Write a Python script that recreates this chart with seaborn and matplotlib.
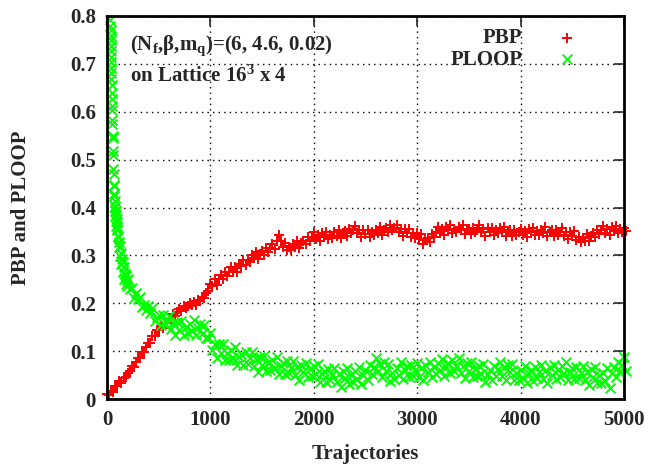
import numpy as np
import pandas as pd
import seaborn as sns
import matplotlib.pyplot as plt

# PBP, one reading every 20 trajectories from 0 to 5020
pbp_traj = np.arange(0, 5040, 20)
pbp = [
    # 0 - 980
    0.010, 0.008, 0.017, 0.014, 0.027, 0.027, 0.037, 0.034, 0.043, 0.045,
    0.055, 0.058, 0.069, 0.067, 0.077, 0.085, 0.085, 0.099, 0.099, 0.108,
    0.117, 0.118, 0.132, 0.132, 0.144, 0.144, 0.153, 0.149, 0.158, 0.158,
    0.168, 0.168, 0.178, 0.173, 0.181, 0.187, 0.183, 0.194, 0.190, 0.195,
    0.201, 0.196, 0.202, 0.197, 0.207, 0.205, 0.214, 0.210, 0.221, 0.225,
    # 1000 - 1980
    0.240, 0.236, 0.251, 0.239, 0.251, 0.259, 0.251, 0.265, 0.257, 0.266,
    0.275, 0.265, 0.275, 0.266, 0.283, 0.278, 0.290, 0.279, 0.290, 0.287,
    0.300, 0.294, 0.307, 0.293, 0.303, 0.309, 0.301, 0.315, 0.307, 0.315,
    0.324, 0.313, 0.329, 0.343, 0.330, 0.318, 0.326, 0.311, 0.318, 0.312,
    0.323, 0.317, 0.330, 0.316, 0.326, 0.331, 0.323, 0.338, 0.331, 0.339,
    # 2000 - 2980
    0.348, 0.334, 0.342, 0.330, 0.346, 0.338, 0.349, 0.334, 0.343, 0.337,
    0.348, 0.341, 0.354, 0.336, 0.346, 0.351, 0.341, 0.356, 0.346, 0.353,
    0.362, 0.347, 0.354, 0.339, 0.354, 0.345, 0.354, 0.339, 0.349, 0.342,
    0.354, 0.347, 0.360, 0.343, 0.353, 0.358, 0.349, 0.364, 0.352, 0.357,
    0.364, 0.348, 0.355, 0.341, 0.356, 0.347, 0.356, 0.338, 0.346, 0.337,
    # 3000 - 3980
    0.347, 0.335, 0.344, 0.324, 0.332, 0.337, 0.328, 0.345, 0.338, 0.348,
    0.359, 0.346, 0.355, 0.343, 0.360, 0.353, 0.363, 0.347, 0.356, 0.349,
    0.360, 0.352, 0.363, 0.345, 0.353, 0.356, 0.344, 0.358, 0.348, 0.354,
    0.363, 0.348, 0.355, 0.341, 0.357, 0.348, 0.358, 0.343, 0.353, 0.346,
    0.357, 0.348, 0.359, 0.340, 0.348, 0.352, 0.340, 0.354, 0.342, 0.348,
    # 4000 - 5020
    0.356, 0.342, 0.351, 0.339, 0.356, 0.348, 0.358, 0.342, 0.350, 0.343,
    0.354, 0.347, 0.359, 0.341, 0.349, 0.353, 0.341, 0.354, 0.343, 0.349,
    0.357, 0.341, 0.348, 0.334, 0.349, 0.341, 0.350, 0.332, 0.338, 0.328,
    0.337, 0.330, 0.344, 0.329, 0.341, 0.347, 0.338, 0.354, 0.345, 0.352,
    0.361, 0.347, 0.355, 0.343, 0.359, 0.351, 0.362, 0.346, 0.356, 0.349,
    0.358, 0.350,
]

# PLOOP: dense at the steep start, every 5 up to 200, then every 20
ploop_traj = np.concatenate([np.arange(32, 48, 1), np.arange(48, 100, 2),
                             np.arange(100, 200, 5), np.arange(200, 5040, 20)])
ploop = [
    # 32 - 47
    0.792, 0.780, 0.771, 0.758, 0.749, 0.737, 0.726, 0.715, 0.703, 0.692,
    0.680, 0.668, 0.655, 0.640, 0.626, 0.612,
    # 48 - 98
    0.604, 0.582, 0.575, 0.550, 0.546, 0.519, 0.510, 0.480, 0.470, 0.444,
    0.447, 0.423, 0.428, 0.402, 0.413, 0.392, 0.403, 0.382, 0.393, 0.372,
    0.384, 0.362, 0.376, 0.356, 0.370, 0.352,
    # 100 - 195
    0.362, 0.339, 0.341, 0.318, 0.327, 0.320, 0.298, 0.305, 0.281, 0.292,
    0.286, 0.265, 0.275, 0.251, 0.262, 0.262, 0.241, 0.257, 0.236, 0.248,
    # 200 - 980
    0.250, 0.229, 0.231, 0.212, 0.222, 0.208, 0.213, 0.192, 0.196, 0.185,
    0.194, 0.179, 0.191, 0.163, 0.171, 0.175, 0.154, 0.176, 0.154, 0.162,
    0.174, 0.147, 0.158, 0.134, 0.160, 0.145, 0.162, 0.134, 0.150, 0.138,
    0.157, 0.143, 0.164, 0.134, 0.149, 0.156, 0.135, 0.154, 0.128, 0.128,
    # 1000 - 1980
    0.138, 0.103, 0.115, 0.086, 0.115, 0.096, 0.114, 0.081, 0.097, 0.082,
    0.102, 0.085, 0.108, 0.071, 0.088, 0.095, 0.071, 0.098, 0.074, 0.085,
    0.099, 0.068, 0.083, 0.057, 0.088, 0.071, 0.090, 0.058, 0.075, 0.061,
    0.082, 0.065, 0.088, 0.052, 0.069, 0.076, 0.053, 0.079, 0.055, 0.065,
    0.080, 0.050, 0.066, 0.040, 0.072, 0.056, 0.076, 0.045, 0.063, 0.048,
    # 2000 - 2980
    0.070, 0.052, 0.074, 0.036, 0.052, 0.058, 0.035, 0.062, 0.039, 0.050,
    0.065, 0.035, 0.052, 0.026, 0.059, 0.044, 0.064, 0.032, 0.050, 0.036,
    0.058, 0.042, 0.067, 0.032, 0.051, 0.060, 0.040, 0.071, 0.052, 0.067,
    0.086, 0.058, 0.074, 0.047, 0.077, 0.058, 0.074, 0.038, 0.054, 0.041,
    0.065, 0.051, 0.077, 0.042, 0.060, 0.068, 0.045, 0.072, 0.049, 0.060,
    # 3000 - 3980
    0.076, 0.047, 0.064, 0.039, 0.072, 0.057, 0.078, 0.047, 0.066, 0.052,
    0.075, 0.060, 0.084, 0.049, 0.067, 0.076, 0.054, 0.081, 0.059, 0.070,
    0.086, 0.055, 0.070, 0.043, 0.075, 0.058, 0.078, 0.045, 0.063, 0.048,
    0.070, 0.052, 0.074, 0.036, 0.052, 0.060, 0.039, 0.069, 0.049, 0.062,
    0.078, 0.049, 0.066, 0.040, 0.071, 0.056, 0.074, 0.040, 0.055, 0.039,
    # 4000 - 5020
    0.060, 0.044, 0.069, 0.033, 0.052, 0.060, 0.038, 0.066, 0.044, 0.056,
    0.072, 0.042, 0.059, 0.034, 0.067, 0.051, 0.072, 0.041, 0.060, 0.047,
    0.070, 0.054, 0.077, 0.040, 0.057, 0.064, 0.041, 0.067, 0.044, 0.055,
    0.070, 0.040, 0.056, 0.030, 0.062, 0.046, 0.066, 0.033, 0.050, 0.034,
    0.055, 0.038, 0.064, 0.022, 0.054, 0.066, 0.047, 0.078, 0.058, 0.072,
    0.088, 0.058,
]

x_ticks = [0, 1000, 2000, 3000, 4000, 5000]
y_ticks = [0, 0.1, 0.2, 0.3, 0.4, 0.5, 0.6, 0.7, 0.8]
y_labels = ['0', '0.1', '0.2', '0.3', '0.4', '0.5', '0.6', '0.7', '0.8']

df_pbp = pd.DataFrame({'Trajectories': pbp_traj, 'value': pbp})
df_ploop = pd.DataFrame({'Trajectories': ploop_traj, 'value': ploop})

sns.set_style('white')
plt.rcParams['font.family'] = ['Liberation Serif', 'DejaVu Serif']
plt.rcParams['font.weight'] = 'bold'
plt.rcParams['mathtext.fontset'] = 'custom'
plt.rcParams['mathtext.rm'] = 'Liberation Serif:bold'
plt.rcParams['mathtext.it'] = 'Liberation Serif:bold'
plt.rcParams['mathtext.bf'] = 'Liberation Serif:bold'

fs = 15
fig = plt.figure(figsize=(6.5, 4.65), dpi=100)
ax = fig.add_axes([0.1646, 0.1419, 0.7954, 0.8237])

sns.scatterplot(data=df_pbp, x='Trajectories', y='value', marker='+', color='#ff0000',
                s=55, linewidth=1.4, label='PBP', ax=ax, clip_on=False, zorder=3)
sns.scatterplot(data=df_ploop, x='Trajectories', y='value', marker='x', color='#00ff00',
                s=50, linewidth=1.4, label='PLOOP', ax=ax, clip_on=False, zorder=3)

ax.set_xlim(0, 5000)
ax.set_ylim(0, 0.8)
ax.set_xticks(x_ticks)
ax.set_yticks(y_ticks)
ax.set_yticklabels(y_labels)
ax.tick_params(direction='in', length=7, width=1.2, top=True, right=True,
               labelsize=fs, pad=8)
for lab in ax.get_xticklabels() + ax.get_yticklabels():
    lab.set_fontweight('bold')
ax.grid(True, linestyle=(0, (1, 3)), color='black', linewidth=1.0)
for sp in ax.spines.values():
    sp.set_linewidth(2)
    sp.set_color('black')
    sp.set_zorder(5)

ax.set_xlabel('Trajectories', fontsize=fs, fontweight='bold', labelpad=10)
ax.set_ylabel('PBP and PLOOP', fontsize=fs, fontweight='bold', labelpad=28)

ax.text(0.045, 0.955, r'(N$_{\rm f}$,β,m$_{\rm q}$)=(6, 4.6, 0.02)', transform=ax.transAxes,
        fontsize=fs, fontweight='bold', va='top', ha='left')
ax.text(0.045, 0.87, r'on Lattice 16$^{3}$ x 4', transform=ax.transAxes,
        fontsize=fs, fontweight='bold', va='top', ha='left')

leg = ax.legend(loc='upper right', frameon=False, markerfirst=False, fontsize=fs,
                handletextpad=1.15, borderaxespad=0.2, labelspacing=0.05,
                bbox_to_anchor=(0.955, 1.0))
for t in leg.get_texts():
    t.set_fontweight('bold')

fig.savefig('out.png', dpi=100)
